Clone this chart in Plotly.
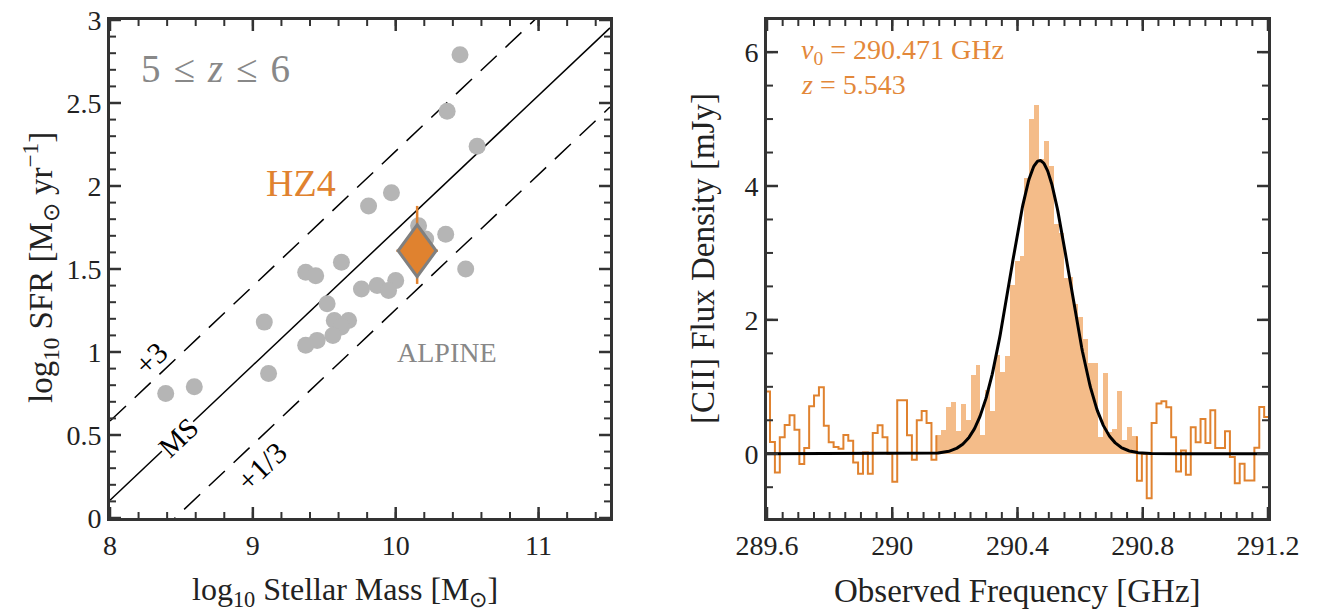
import numpy as np
import plotly.graph_objects as go

W, H = 1326, 612

# ---------------- left panel data ----------------
alpine_logm = [10.45, 10.36, 10.57, 9.97, 9.81, 10.16, 10.21, 10.35, 9.62, 9.37,
               9.44, 10.49, 10.00, 9.87, 9.76, 9.95, 9.52, 9.57, 9.67, 9.62,
               9.56, 9.45, 9.37, 9.08, 9.11, 8.39, 8.59]
alpine_logsfr = [2.79, 2.45, 2.24, 1.96, 1.88, 1.76, 1.68, 1.71, 1.54, 1.48,
                 1.46, 1.50, 1.43, 1.40, 1.38, 1.37, 1.29, 1.19, 1.19, 1.15,
                 1.10, 1.07, 1.04, 1.18, 0.87, 0.75, 0.79]
hz4_logm = [10.15]
hz4_logsfr = [1.61]
hz4_sfr_err_plus = [0.27]
hz4_sfr_err_minus = [0.20]
hz4_m_err = [0.145]
ms_slope = 0.813
ms_intercept = -6.397
ms_scatter = np.log10(3.0)
mass_range = [8.0, 11.5]
mass_ticks = [8, 9, 10, 11]
mass_ticklabels = ["8", "9", "10", "11"]
mass_minor_step = 0.2
sfr_range = [0.0, 3.0]
sfr_ticks = [0, 0.5, 1, 1.5, 2, 2.5, 3]
sfr_ticklabels = ["0", "0.5", "1", "1.5", "2", "2.5", "3"]
sfr_minor_step = 0.1

# ---------------- right panel data ----------------
chan_width = 0.015625
chan_first_center = 289.6018
flux = [0.93, 0.175, -0.28, 0.245, 0.43, 0.575, 0.36, -0.155, 0.085, 0.71,
        0.87, 0.995, 0.42, 0.17, 0.10, 0.075, 0.28, 0.195, -0.13, -0.30,
        0.02, -0.30, 0.31, 0.425, 0.245, 0.0, -0.42, 0.80, 0.80, 0.275,
        -0.09, 0.50, 0.64, 0.46, -0.09, 0.275, 0.35, 0.70, 0.775, 0.34,
        0.75, 0.50, 1.175, 1.325, 0.275, 0.95, 0.64, 1.475, 1.225, 1.46,
        2.525, 2.875, 2.95, 4.125, 5.0, 5.21, 4.4, 4.675, 4.30, 3.425,
        3.30, 2.625, 2.64, 2.235, 2.05, 1.71, 1.36, 1.36, 0.25, 1.21,
        0.33, 0.37, 0.935, 0.20, 0.395, 0.26, -0.405, 0.0, -0.665, 0.46,
        0.75, 0.785, 0.695, 0.245, -0.265, 0.05, -0.315, 0.395, 0.17, 0.52,
        0.16, 0.65, 0.085, 0.085, 0.335, -0.05, -0.44, -0.15, -0.40, -0.40,
        0.09, 0.70, 0.55]
fill_first, fill_last = 35, 75
line_nu0 = 290.471
line_peak = 4.38
line_sigma = 0.094
freq_range = [289.6, 291.2]
freq_ticks = [289.6, 290.0, 290.4, 290.8, 291.2]
freq_ticklabels = ["289.6", "290", "290.4", "290.8", "291.2"]
freq_minor_step = 0.05
flux_range = [-0.96, 6.48]
flux_ticks = [0, 2, 4, 6]
flux_ticklabels = ["0", "2", "4", "6"]
flux_minor_step = 0.5

# ---------------- styles ----------------
ORANGE = "#e0822f"
ORANGE_TXT = "#e3883a"
FILL = "#f4bc89"
GRAY_PT = "#b5b5b5"
GRAY_TXT = "#888888"
FRAME = "#333333"
FONT = "Liberation Serif"

L_PX = [110, 610]
R_PX = [767, 1268]
V_PX = [20, 518]
L_DOM = [L_PX[0] / W, L_PX[1] / W]
R_DOM = [R_PX[0] / W, R_PX[1] / W]
V_DOM = [1 - V_PX[1] / H, 1 - V_PX[0] / H]
MAJOR_LEN, MINOR_LEN = 11, 6

fig = go.Figure()

mx = np.array(mass_range)
ms = ms_slope * mx + ms_intercept
fig.add_trace(go.Scatter(x=mx, y=ms, mode="lines", line=dict(color="black", width=1.5),
                         xaxis="x", yaxis="y", hoverinfo="skip"))
for off in (ms_scatter, -ms_scatter):
    fig.add_trace(go.Scatter(x=mx, y=ms + off, mode="lines",
                             line=dict(color="black", width=1.5, dash="22px,12px"),
                             xaxis="x", yaxis="y", hoverinfo="skip"))

fig.add_trace(go.Scatter(x=alpine_logm, y=alpine_logsfr, mode="markers",
                         marker=dict(size=17, color=GRAY_PT, line=dict(width=0)),
                         xaxis="x", yaxis="y"))
fig.add_trace(go.Scatter(x=hz4_logm, y=hz4_logsfr, mode="markers",
                         marker=dict(size=1, color="rgba(0,0,0,0)"),
                         error_y=dict(type="data", symmetric=False, array=hz4_sfr_err_plus,
                                      arrayminus=hz4_sfr_err_minus, color=ORANGE,
                                      thickness=2.5, width=0),
                         error_x=dict(type="data", array=hz4_m_err, color=ORANGE,
                                      thickness=2.5, width=0),
                         xaxis="x", yaxis="y"))

nchan = len(flux)
centers = chan_first_center + chan_width * np.arange(nchan)
left_e = centers - chan_width / 2
right_e = centers + chan_width / 2
fv = np.array(flux)

fig.add_trace(go.Bar(x=centers[fill_first:fill_last + 1], y=fv[fill_first:fill_last + 1],
                     width=chan_width, marker=dict(color=FILL, line=dict(width=0)),
                     xaxis="x2", yaxis="y2"))


def stairs(i0, i1):
    xs, ys = [], []
    for i in range(i0, i1 + 1):
        xs += [left_e[i], right_e[i]]
        ys += [fv[i], fv[i]]
    return xs, ys


xs1, ys1 = stairs(0, fill_first - 1)
xs1.append(right_e[fill_first - 1]); ys1.append(fv[fill_first])
xs2, ys2 = stairs(fill_last + 1, nchan - 1)
xs2 = [left_e[fill_last + 1]] + xs2
ys2 = [fv[fill_last]] + ys2
for xs, ys in ((xs1, ys1), (xs2, ys2)):
    fig.add_trace(go.Scatter(x=xs, y=ys, mode="lines", line=dict(color=ORANGE, width=2),
                             xaxis="x2", yaxis="y2", hoverinfo="skip"))

gx = np.linspace(freq_range[0], freq_range[1], 800)
gy = line_peak * np.exp(-0.5 * ((gx - line_nu0) / line_sigma) ** 2)
fig.add_trace(go.Scatter(x=gx, y=gy, mode="lines", line=dict(color="black", width=3),
                         xaxis="x2", yaxis="y2", hoverinfo="skip"))


# ---- inward tick marks on all four sides (from the tick lists + axis ranges) ----
def add_ticks(xa, ya, xr, yr, xpx, ypx, xmaj, xstep, ymaj, ystep):
    dx_per_px = (xr[1] - xr[0]) / (xpx[1] - xpx[0])
    dy_per_px = (yr[1] - yr[0]) / (ypx[1] - ypx[0])
    xmin = np.arange(xr[0], xr[1] + 1e-9, xstep)
    ymin = np.arange(np.ceil(yr[0] / ystep) * ystep, yr[1] + 1e-9, ystep)
    for vals_x, vals_y, ln, wd in ((xmaj, ymaj, MAJOR_LEN, 2.5), (xmin, ymin, MINOR_LEN, 2)):
        tx, ty = [], []
        lx = ln * dx_per_px
        ly = ln * dy_per_px
        for v in vals_x:
            tx += [v, v, None, v, v, None]
            ty += [yr[0], yr[0] + ly, None, yr[1], yr[1] - ly, None]
        for v in vals_y:
            tx += [xr[0], xr[0] + lx, None, xr[1], xr[1] - lx, None]
            ty += [v, v, None, v, v, None]
        fig.add_trace(go.Scatter(x=tx, y=ty, mode="lines", xaxis=xa, yaxis=ya,
                                 line=dict(color=FRAME, width=wd), hoverinfo="skip",
                                 connectgaps=False))


add_ticks("x", "y", mass_range, sfr_range, L_PX, V_PX, mass_ticks, mass_minor_step,
          sfr_ticks, sfr_minor_step)
add_ticks("x2", "y2", freq_range, flux_range, R_PX, V_PX, freq_ticks, freq_minor_step,
          flux_ticks, flux_minor_step)

tickfont = dict(family=FONT, size=28, color="#222222")


def axis_style(**kw):
    d = dict(showgrid=False, zeroline=False, showline=True, linecolor=FRAME, linewidth=3,
             mirror=True, ticks="", tickfont=tickfont, automargin=False, tickmode="array",
             layer="above traces")
    d.update(kw)
    return d


fig.update_layout(
    template="simple_white",
    width=W, height=H, margin=dict(l=0, r=0, t=0, b=0, autoexpand=False),
    plot_bgcolor="white", paper_bgcolor="white", showlegend=False, bargap=0,
    xaxis=axis_style(domain=L_DOM, range=mass_range, anchor="y",
                     tickvals=mass_ticks, ticktext=mass_ticklabels),
    yaxis=axis_style(domain=V_DOM, range=sfr_range, anchor="x",
                     tickvals=sfr_ticks, ticktext=sfr_ticklabels),
    xaxis2=axis_style(domain=R_DOM, range=freq_range, anchor="y2",
                      tickvals=freq_ticks, ticktext=freq_ticklabels),
    yaxis2=axis_style(domain=V_DOM, range=flux_range, anchor="x2",
                      tickvals=flux_ticks, ticktext=flux_ticklabels),
)

fig.add_shape(type="path", xref="x", yref="y", xsizemode="pixel", ysizemode="pixel",
              xanchor=hz4_logm[0], yanchor=hz4_logsfr[0],
              path="M 0 26 L 19 0 L 0 -26 L -19 0 Z", opacity=1,
              fillcolor=ORANGE, line=dict(color="#808080", width=3), layer="above")

ang = -np.degrees(np.arctan(ms_slope * (498 / 3.0) / (500 / 3.5)))
SP = "\u2004"

ann = [
    dict(x=8.2, y=2.71, xref="x", yref="y",
         text="5" + SP + "\u2264" + SP + "<i>z</i>" + SP + "\u2264" + SP + "6",
         xanchor="left", yanchor="middle",
         showarrow=False, font=dict(family=FONT, size=39, color=GRAY_TXT)),
    dict(x=9.34, y=2.02, xref="x", yref="y", text="HZ4", showarrow=False,
         xanchor="center", yanchor="middle",
         font=dict(family=FONT, size=38, color=ORANGE)),
    dict(x=10.357, y=1.0, xref="x", yref="y", text="ALPINE", showarrow=False,
         xanchor="center", yanchor="middle",
         font=dict(family=FONT, size=28, color=GRAY_TXT)),
    dict(x=8.285, y=0.96, xref="x", yref="y", text="+3", showarrow=False, textangle=ang,
         xanchor="center", yanchor="middle",
         font=dict(family=FONT, size=30, color="black")),
    dict(x=8.479, y=0.49, xref="x", yref="y", text="MS", showarrow=False, textangle=ang,
         xanchor="center", yanchor="middle", borderpad=0,
         bgcolor="white", font=dict(family=FONT, size=29, color="black")),
    dict(x=9.059, y=0.31, xref="x", yref="y", text="+1/3", showarrow=False, textangle=ang,
         xanchor="center", yanchor="middle",
         font=dict(family=FONT, size=30, color="black")),
    dict(x=289.702, y=6.01, xref="x2", yref="y2", xanchor="left", yanchor="middle",
         text="<i>\u03bd</i><sub>0</sub> = 290.471 GHz", showarrow=False,
         font=dict(family=FONT, size=28, color=ORANGE_TXT)),
    dict(x=289.702, y=5.51, xref="x2", yref="y2", xanchor="left", yanchor="middle",
         text="<i>z</i> = 5.543", showarrow=False,
         font=dict(family=FONT, size=28, color=ORANGE_TXT)),
    dict(x=345 / W, y=1 - 591 / H, xref="paper", yref="paper", xanchor="center",
         yanchor="middle",
         text="log<sub>10</sub> Stellar Mass [M<sub>\u2299</sub>]", showarrow=False,
         font=dict(family=FONT, size=32, color="#222222")),
    dict(x=40 / W, y=1 - 268 / H, xref="paper", yref="paper", textangle=-90,
         xanchor="center", yanchor="middle",
         text="log<sub>10</sub> SFR [M<sub>\u2299</sub> yr<sup>\u22121</sup>]", showarrow=False,
         font=dict(family=FONT, size=33, color="#222222")),
    dict(x=1017 / W, y=1 - 591 / H, xref="paper", yref="paper", xanchor="center",
         yanchor="middle",
         text="Observed Frequency [GHz]", showarrow=False,
         font=dict(family=FONT, size=33, color="#222222")),
    dict(x=703 / W, y=1 - 259 / H, xref="paper", yref="paper", textangle=-90,
         xanchor="center", yanchor="middle",
         text="[CII] Flux Density [mJy]", showarrow=False,
         font=dict(family=FONT, size=33, color="#222222")),
]
fig.update_layout(annotations=ann)

fig.write_html("out.html")
